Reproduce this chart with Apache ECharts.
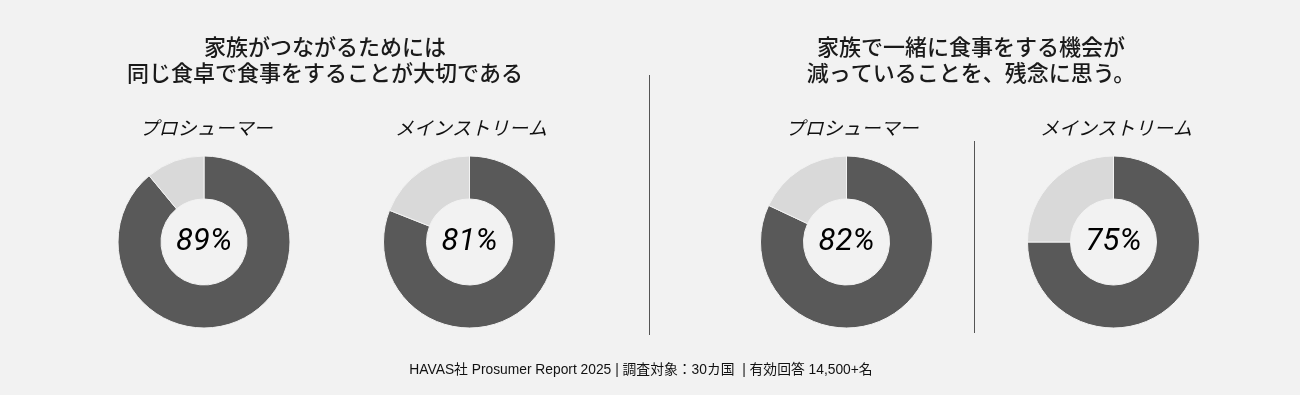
<!DOCTYPE html>
<html>
<head>
<meta charset="utf-8">
<script src="https://cdn.jsdelivr.net/npm/echarts@6/dist/echarts.min.js"></script>
<style>
html,body{margin:0;padding:0;background:#f2f2f2;}
#chart{width:1300px;height:395px;}
</style>
</head>
<body>
<div id="chart"></div>
<script>
// ---- data ----
const questionTitles = [
  '家族がつながるためには\n同じ食卓で食事をすることが大切である',
  '家族で一緒に食事をする機会が\n減っていることを、残念に思う。'
];
const segments = ['プロシューマー', 'メインストリーム', 'プロシューマー', 'メインストリーム'];
const agreeValues = [89, 81, 82, 75];
const footnote = 'HAVAS社 Prosumer Report 2025 | 調査対象：30カ国  | 有効回答 14,500+名';

// ---- layout ----
const pieCenters = [[204, 242], [469.5, 242], [846.5, 242], [1113.5, 242]];
const subtitleX = [201, 466, 847, 1111];
const titleX = [320, 966];
const DARK = '#595959', LIGHT = '#d9d9d9';
const CJK = "'Noto Sans CJK JP', sans-serif";

const chart = echarts.init(document.getElementById('chart'), null, {renderer: 'canvas'});

const titles = [];
questionTitles.forEach((t, i) => {
  titles.push({
    text: t, left: titleX[i], top: 29, textAlign: 'center',
    textStyle: {fontFamily: CJK, fontSize: 22, fontWeight: 500, color: '#1a1a1a', lineHeight: 26}
  });
});
segments.forEach((s, i) => {
  titles.push({
    text: s, left: subtitleX[i], top: 113, textAlign: 'center',
    textStyle: {fontFamily: CJK, fontSize: 19, fontWeight: 'normal', fontStyle: 'italic', color: '#111'}
  });
});
titles.push({
  text: footnote, left: 636, top: 358, textAlign: 'center',
  textStyle: {fontFamily: "'Liberation Sans', 'Noto Sans CJK JP', sans-serif", fontSize: 13.8, fontWeight: 'normal', color: '#111'}
});

const series = agreeValues.map((v, i) => ({
  type: 'pie',
  radius: [43, 86],
  center: pieCenters[i],
  startAngle: 90,
  clockwise: true,
  silent: true,
  avoidLabelOverlap: false,
  labelLine: {show: false},
  itemStyle: {borderColor: '#f2f2f2', borderWidth: 1},
  data: [
    {value: v, name: segments[i], itemStyle: {color: DARK},
     label: {show: true, position: 'center', formatter: '{c}%',
             fontFamily: 'Roboto, sans-serif', fontStyle: 'italic', fontWeight: 'normal', fontSize: 31, color: '#000'}},
    {value: 100 - v, name: 'other', itemStyle: {color: LIGHT}, label: {show: false}}
  ]
}));

chart.setOption({
  backgroundColor: '#f2f2f2',
  animation: false,
  title: titles,
  series: series,
  graphic: [
    {type: 'line', shape: {x1: 649.5, y1: 75, x2: 649.5, y2: 335}, style: {stroke: '#555', lineWidth: 1}},
    {type: 'line', shape: {x1: 974.5, y1: 141, x2: 974.5, y2: 333}, style: {stroke: '#555', lineWidth: 1}}
  ]
});
</script>
</body>
</html>
